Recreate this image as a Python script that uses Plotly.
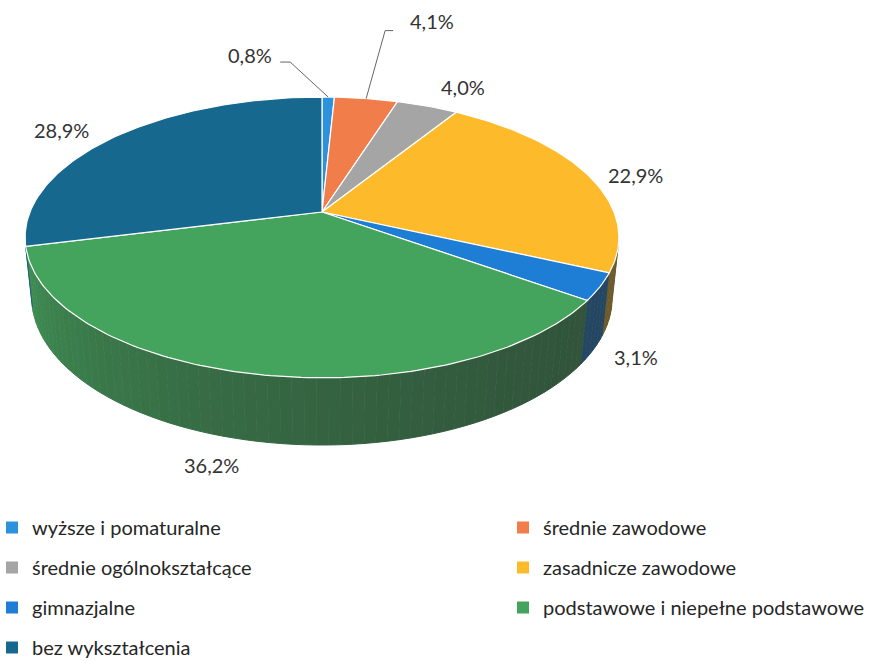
import math
import plotly.graph_objects as go

# ---- data ----
categories = [
    "wyższe i pomaturalne",
    "średnie zawodowe",
    "średnie ogólnokształcące",
    "zasadnicze zawodowe",
    "gimnazjalne",
    "podstawowe i niepełne podstawowe",
    "bez wykształcenia",
]
values = [0.8, 4.1, 4.0, 22.9, 3.1, 36.2, 28.9]
colors = ["#2C92DE", "#F07D4A", "#A5A5A5", "#FDBB2C", "#1E7DD4", "#44A35C", "#17688F"]
legend_column = [1, 2, 1, 2, 1, 2, 1]

# ---- 3D projection style (pixel space) ----
CX, CY = 322.0, 212.0      # apex of the pie on screen
F = 292.0                  # horizontal scale
SIN_A, COS_A = 0.465, 0.885
RD = 0.2046                # radius / camera distance
DEPTH = 0.233              # thickness relative to radius


def proj(theta_deg, rad=1.0, z=0.0):
    t = math.radians(theta_deg)
    xp, yp = rad * math.sin(t), rad * math.cos(t)
    v = yp * SIN_A + z * COS_A
    w = 1 + RD * (yp * COS_A - z * SIN_A)
    return CX + F * xp / w, CY - F * v / w


def mix(hexc, t, dark=(40, 44, 42)):
    r, g, b = int(hexc[1:3], 16), int(hexc[3:5], 16), int(hexc[5:7], 16)
    r = int(r * t + dark[0] * (1 - t))
    g = int(g * t + dark[1] * (1 - t))
    b = int(b * t + dark[2] * (1 - t))
    return f"rgb({r},{g},{b})"


total = sum(values)
bounds = []
acc = 0.0
for v in values:
    a0 = acc / total * 360
    acc += v
    a1 = acc / total * 360
    bounds.append((a0, a1))

fig = go.Figure()

# side faces (visible front part)
vis0 = 90 + math.degrees(math.asin(RD / COS_A))
vis1 = 270 - math.degrees(math.asin(RD / COS_A))
for (a0, a1), col in zip(bounds, colors):
    s0, s1 = max(a0, vis0), min(a1, vis1)
    if s1 <= s0:
        continue
    n = max(1, int(math.ceil((s1 - s0) / 2.0)))
    for i in range(n):
        t0 = s0 + (s1 - s0) * i / n
        t1 = s0 + (s1 - s0) * (i + 1) / n
        tm = (t0 + t1) / 2
        f = (tm - vis0) / (vis1 - vis0)
        shade = 0.32 + 0.52 * f ** 1.8
        xs, ys = [], []
        for k in range(3):
            x, y = proj(t0 + (t1 - t0) * k / 2)
            xs.append(x); ys.append(y)
        for k in range(3):
            x, y = proj(t1 - (t1 - t0) * k / 2, z=-DEPTH)
            xs.append(x); ys.append(y)
        c = mix(col, shade)
        fig.add_trace(go.Scatter(x=xs, y=ys, fill="toself", fillcolor=c, mode="lines",
                                 line=dict(color=c, width=1), hoverinfo="skip", showlegend=False))

# top faces
for (a0, a1), col, name, v in zip(bounds, colors, categories, values):
    xs, ys = [CX], [CY]
    n = max(2, int(math.ceil((a1 - a0) / 1.0)))
    for k in range(n + 1):
        x, y = proj(a0 + (a1 - a0) * k / n)
        xs.append(x); ys.append(y)
    xs.append(CX); ys.append(CY)
    fig.add_trace(go.Scatter(x=xs, y=ys, fill="toself", fillcolor=col, mode="lines",
                             line=dict(color="white", width=1.2), name=name,
                             hovertext=f"{name}: {v}%", hoverinfo="text", showlegend=False))

# legend entries (two columns = two legends)
for i, (name, col, lc) in enumerate(zip(categories, colors, legend_column)):
    fig.add_trace(go.Scatter(x=[None], y=[None], mode="markers", name=name,
                             legend="legend" if lc == 1 else "legend2", legendgroup=f"g{i}",
                             marker=dict(symbol="square", size=12, color=col), showlegend=True))

# labels: (text dx, text dy (up positive), leader elbow dx, elbow dy (screen, down positive), tail)
label_style = [(-78, 42, 40, 7, -10), (66, 78, -47, 10, 8), (36, 19, None, None, None),
               (48, 0, None, None, None), (36, -70, None, None, None),
               (-44, -91, None, None, None), (-53, 7, None, None, None)]
LABEL_FONT = dict(family="Lato", size=20, color="#333333")
for (a0, a1), v, (dx, dy, ex, ey, tail) in zip(bounds, values, label_style):
    mx, my = proj((a0 + a1) / 2)
    txt = f"{v:.1f}".replace(".", ",") + "%"
    if ex is not None:
        tx, ty = mx + dx, my - dy
        elx, ely = tx + ex, ty + ey
        fig.add_trace(go.Scatter(x=[mx, elx, elx + tail], y=[my, ely, ely], mode="lines",
                                 line=dict(color="#666666", width=1), hoverinfo="skip",
                                 showlegend=False))
        fig.add_annotation(x=tx, y=ty, text=txt, showarrow=False, font=LABEL_FONT)
    else:
        fig.add_annotation(x=mx, y=my, text=txt, showarrow=False, xshift=dx, yshift=dy,
                           font=LABEL_FONT)

LEG_FONT = dict(family="Lato", size=20, color="#262626")
common_leg = dict(orientation="v", yanchor="top", y=1 - 508 / 661, xanchor="left",
                  traceorder="grouped", tracegroupgap=11, font=LEG_FONT,
                  bgcolor="rgba(0,0,0,0)")

fig.update_layout(
    width=880, height=661,
    margin=dict(l=0, r=0, t=0, b=0, autoexpand=False),
    paper_bgcolor="white", plot_bgcolor="white",
    xaxis=dict(range=[0, 880], visible=False, fixedrange=True),
    yaxis=dict(range=[661, 0], visible=False, fixedrange=True),
    showlegend=True,
    legend=dict(x=-8 / 880, **common_leg),
    legend2=dict(x=503 / 880, **common_leg),
)

fig.write_html("out.html", config={"displayModeBar": False},
               post_script="document.body.style.margin='0';document.body.style.overflow='hidden';")
